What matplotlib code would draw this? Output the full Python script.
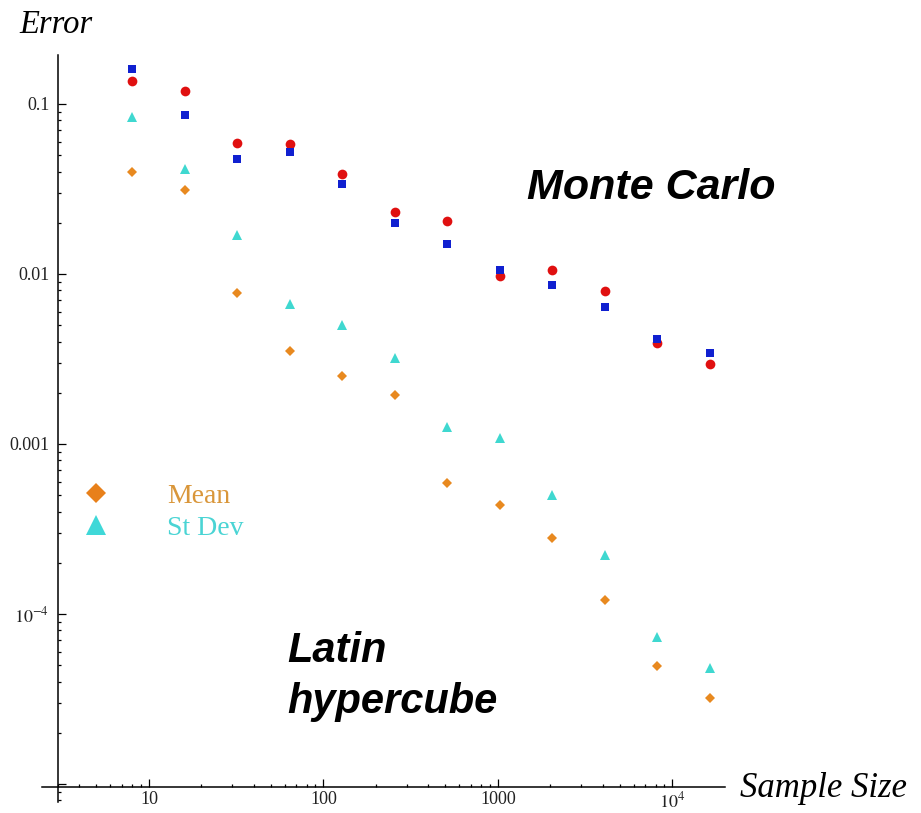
import numpy as np
import matplotlib.pyplot as plt
from matplotlib.lines import Line2D
from matplotlib.ticker import FixedLocator, NullFormatter

# --- данные ---
sample_size = [8, 16, 32, 64, 128, 256, 512, 1024, 2048, 4096, 8192, 16384]

mc_mean = [0.137, 0.119, 0.0591, 0.0579, 0.0388, 0.0230, 0.0206, 0.00973, 0.01056, 0.00794, 0.00391, 0.00296]
mc_stdev = [0.161, 0.0865, 0.0475, 0.0522, 0.0338, 0.0200, 0.0150, 0.01057, 0.00861, 0.00637, 0.00413, 0.00341]

lhs_mean = [0.0396, 0.0312, 0.00776, 0.00354, 0.00251, 0.00194, 0.000588, 0.000438, 0.000281, 0.000120, 4.97e-5, 3.22e-5]
lhs_stdev = [0.0842, 0.0413, 0.0170, 0.00666, 0.00501, 0.00319, 0.00126, 0.00108, 0.000501, 0.000222, 7.36e-5, 4.8e-5]

x_ticks = [10, 100, 1000, 10000]
x_tick_labels = ['10', '100', '1000', r'$10^{4}$']
y_ticks = [1e-5, 1e-4, 1e-3, 1e-2, 1e-1]
y_tick_labels = ['', r'$10^{-4}$', '0.001', '0.01', '0.1']

plt.rcParams['mathtext.fontset'] = 'stix'
serif = 'Liberation Serif'
sans = 'Liberation Sans'

W, H = 921, 813
fig = plt.figure(figsize=(W / 100, H / 100), dpi=100)
ax = fig.add_axes([42 / W, 1 - 802 / H, 683 / W, 747 / H])

ax.set_xscale('log'); ax.set_yscale('log')
ax.set_xlim(2.44, 20000)
ax.set_ylim(7.83e-6, 0.194)

# оси пересекаются как в Mathematica
for s in ['top', 'right']: ax.spines[s].set_visible(False)
ax.spines['left'].set_position(('data', 3))
ax.spines['bottom'].set_position(('data', 9.6e-6))
for s in ['left', 'bottom']: ax.spines[s].set_linewidth(1.1)

ax.xaxis.set_major_locator(FixedLocator(x_ticks))
ax.set_xticklabels(x_tick_labels)
x_minor = [m * 10 ** e for e in range(0, 4) for m in range(2, 10) if 3 <= m * 10 ** e < 20000]
ax.xaxis.set_minor_locator(FixedLocator(x_minor))
ax.xaxis.set_minor_formatter(NullFormatter())

ax.yaxis.set_major_locator(FixedLocator(y_ticks))
ax.set_yticklabels(y_tick_labels)
y_minor = [m * 10.0 ** e for e in range(-6, 0) for m in range(2, 10) if 7.83e-6 < m * 10.0 ** e < 0.194]
ax.yaxis.set_minor_locator(FixedLocator(y_minor))
ax.yaxis.set_minor_formatter(NullFormatter())

ax.tick_params(which='both', direction='in', width=0.9, colors='black')
ax.tick_params(which='major', length=5.5, labelsize=13, pad=6)
ax.tick_params(axis='x', which='major', pad=3)
ax.tick_params(which='minor', length=2.5)
for lab in ax.get_xticklabels() + ax.get_yticklabels():
    lab.set_fontfamily(serif)
    lab.set_color('#222222')

# --- точки ---
ax.plot(sample_size, mc_mean, 'o', color='#e01010', markersize=7, markeredgewidth=0, clip_on=False)
ax.plot(sample_size, mc_stdev, 's', color='#1020d0', markersize=5.5, markeredgewidth=0, clip_on=False)
ax.plot(sample_size, lhs_stdev, '^', color='#3fd8d0', markersize=6.5, markeredgewidth=0, clip_on=False)
ax.plot(sample_size, lhs_mean, 'D', color='#e8891f', markersize=5, markeredgewidth=0, clip_on=False)

# --- легенда ---
handles = [Line2D([], [], ls='none', marker='D', color='#e8801a', markersize=10, markeredgewidth=0),
           Line2D([], [], ls='none', marker='^', color='#3fd8d8', markersize=15, markeredgewidth=0)]
ax.legend(handles, ['Mean', 'St Dev'], loc='center left',
          bbox_to_anchor=(57 / W, 1 - 512 / H), bbox_transform=fig.transFigure,
          frameon=False, handlelength=1.0, handletextpad=2.05, labelspacing=0.25,
          borderpad=0.4, prop={'family': serif, 'size': 20},
          labelcolor=['#d9963a', '#4ad4d4'])

# --- подписи ---
fig.text(19 / W, 1 - 33 / H, 'Error', fontsize=23.5, style='italic', family=serif, va='baseline')
fig.text(740 / W, 1 - 797 / H, 'Sample Size', fontsize=25, style='italic', family=serif, va='baseline')
fig.text(527 / W, 1 - 199 / H, 'Monte Carlo', fontsize=31, style='italic', weight='bold', family=sans, va='baseline')
fig.text(287 / W, 1 - 662 / H, 'Latin', fontsize=30, style='italic', weight='bold', family=sans, va='baseline')
fig.text(287 / W, 1 - 713 / H, 'hypercube', fontsize=30, style='italic', weight='bold', family=sans, va='baseline')

fig.savefig('out.png', dpi=100, facecolor='white')
